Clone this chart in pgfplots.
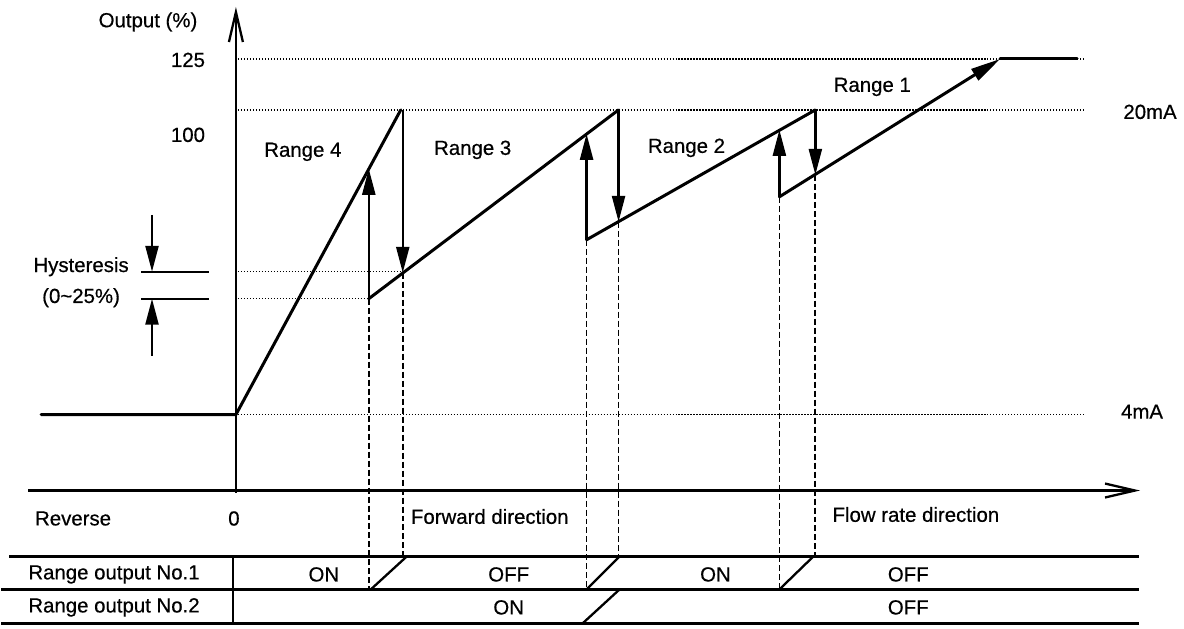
\documentclass[border=0pt]{standalone}
\usepackage{fontspec}
\setmainfont{Liberation Sans}[FakeBold=0.5]
\newfontfamily\lblfont{Liberation Sans}[FakeBold=0.5]
\usepackage{pgfplots}
\pgfplotsset{compat=1.18}
\usetikzlibrary{arrows.meta}
\tikzset{
  lbl/.style={font=\lblfont\fontsize{20.5}{24}\selectfont, inner sep=0pt},
  dotline/.style={line width=1.3bp, dash pattern=on 1.3bp off 1.7bp},
  dashline/.style={line width=1.8bp, dash pattern=on 6bp off 3bp},
  main/.style={line width=3bp, line join=round, line cap=round},
  arr/.style={line width=2.4bp, -{Triangle[length=26bp,width=13bp]}},
  ax/.style={line width=2.3bp, -{Straight Barb[length=30bp,width=14bp]}},
  tbl/.style={line width=2.3bp},
}
\begin{document}
\begin{tikzpicture}
\begin{axis}[x=1bp,y=1bp,y dir=reverse,xmin=0,xmax=1184,ymin=0,ymax=629,
  hide axis,clip=false,scale only axis]
\path (axis cs:0,0) rectangle (axis cs:1184,629);
% dotted reference levels
\addplot[dotline] coordinates {(237,59) (1085,59)};
\addplot[dotline] coordinates {(237,110) (1085,110)};
\addplot[dotline] coordinates {(237,272) (402,272)};
\addplot[dotline] coordinates {(237,299) (368,299)};
\addplot[dotline] coordinates {(237,415) (1085,415)};
% axes
\addplot[ax] coordinates {(235,493) (235,7)};
\addplot[ax] coordinates {(27,491) (1140,491)};
% main characteristic
\addplot[main] coordinates {(40,415) (235,415) (400,110)};
\addplot[main] coordinates {(368,299) (618,110)};
\addplot[main] coordinates {(586,240) (815,110)};
\addplot[main, -{Triangle[length=30bp,width=13bp]}] coordinates {(779,197) (1000,59)};
\addplot[main] coordinates {(1000,59) (1077,59)};
% switching arrows
\addplot[arr] coordinates {(402,110) (402,273)};
\addplot[arr] coordinates {(618,110) (618,222)};
\addplot[arr] coordinates {(815,110) (815,175)};
\addplot[arr] coordinates {(368,299) (368,169)};
\addplot[arr] coordinates {(586,240) (586,134)};
\addplot[arr] coordinates {(779,197) (779,130)};
% dashed drop lines
\addplot[dashline] coordinates {(368,299) (368,590)};
\addplot[dashline] coordinates {(402,273) (402,557)};
\addplot[dashline] coordinates {(586,240) (586,590)};
\addplot[dashline] coordinates {(618,222) (618,557)};
\addplot[dashline] coordinates {(779,197) (779,590)};
\addplot[dashline] coordinates {(815,175) (815,557)};
% table
\addplot[tbl] coordinates {(8,557) (1139,557)};
\addplot[tbl] coordinates {(0,590) (1139,590)};
\addplot[tbl] coordinates {(0,624) (1139,624)};
\addplot[tbl] coordinates {(232,557) (232,624)};
\addplot[tbl] coordinates {(370,590) (406,557)};
\addplot[tbl] coordinates {(586,590) (619,557)};
\addplot[tbl] coordinates {(779,590) (813,557)};
\addplot[tbl] coordinates {(582,624) (619,590)};
% hysteresis marker
\addplot[tbl] coordinates {(140,272) (208,272)};
\addplot[tbl] coordinates {(140,299) (208,299)};
\addplot[arr] coordinates {(151,215) (151,272)};
\addplot[arr] coordinates {(151,356) (151,299)};
% labels
\node[lbl] at (axis cs:147,22) {Output (\%)};
\node[lbl] at (axis cs:187,60) {125};
\node[lbl] at (axis cs:187,135) {100};
\node[lbl] at (axis cs:302,152) {Range 4};
\node[lbl] at (axis cs:472,150) {Range 3};
\node[lbl] at (axis cs:686,148) {Range 2};
\node[lbl] at (axis cs:872,87) {Range 1};
\node[lbl] at (axis cs:1150,112) {20mA};
\node[lbl] at (axis cs:1142,412) {4mA};
\node[lbl] at (axis cs:80,267) {Hysteresis};
\node[lbl] at (axis cs:80,298) {(0\textasciitilde 25\%)};
\node[lbl] at (axis cs:72,519) {Reverse};
\node[lbl] at (axis cs:233,519) {0};
\node[lbl, anchor=west] at (axis cs:410,517) {Forward direction};
\node[lbl, anchor=west] at (axis cs:832,515) {Flow rate direction};
\node[lbl] at (axis cs:113,575) {Range output No.1};
\node[lbl] at (axis cs:113,608) {Range output No.2};
\node[lbl] at (axis cs:323,575) {ON};
\node[lbl] at (axis cs:508,575) {OFF};
\node[lbl] at (axis cs:715,575) {ON};
\node[lbl] at (axis cs:908,575) {OFF};
\node[lbl] at (axis cs:508,608) {ON};
\node[lbl] at (axis cs:908,608) {OFF};
\end{axis}
\end{tikzpicture}
\end{document}
